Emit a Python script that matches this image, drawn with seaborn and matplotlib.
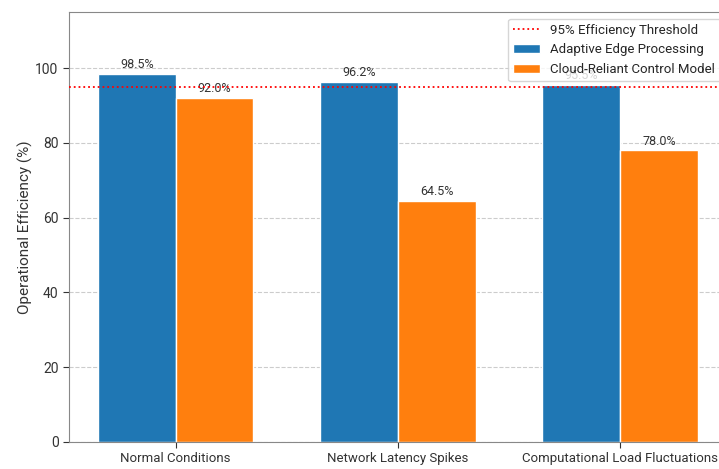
import pandas as pd
import matplotlib.pyplot as plt
import seaborn as sns

scenarios = ['Normal Conditions', 'Network Latency Spikes', 'Computational Load Fluctuations']
edge_values = [98.5, 96.2, 95.5]
cloud_values = [92.0, 64.5, 78.0]
series_names = ['Adaptive Edge Processing', 'Cloud-Reliant Control Model']
threshold = 95

sns.set_style('white')
plt.rcParams['font.family'] = ['Roboto', 'DejaVu Sans']

df = pd.DataFrame({
    'scenario': scenarios * 2,
    'efficiency': edge_values + cloud_values,
    'model': [series_names[0]] * 3 + [series_names[1]] * 3,
})

fig = plt.figure(figsize=(7.19, 4.69), dpi=100)
ax = fig.add_axes([0.096, 0.0576, 0.915, 0.917])

sns.barplot(data=df, x='scenario', y='efficiency', hue='model',
            palette=['#1f77b4', '#ff7f0e'], width=0.7, saturation=1,
            ax=ax, zorder=2)

for cont in ax.containers:
    ax.bar_label(cont, fmt='%.1f%%', fontsize=9, color='#333333', padding=2)

line = ax.axhline(threshold, color='red', linestyle=':', linewidth=1.3,
                  label='95% Efficiency Threshold', zorder=3)

ax.set_ylim(0, 115)
ax.set_xlim(-0.48, 2.48)
ax.set_xlabel('')
ax.set_ylabel('Operational Efficiency (%)', fontsize=11, color='#333333', labelpad=2)
ax.yaxis.grid(True, linestyle='--', color='#cccccc', linewidth=0.8, zorder=0)
ax.set_axisbelow(True)
ax.tick_params(axis='x', labelsize=9.5, colors='#333333', length=4, bottom=True)
ax.tick_params(axis='y', labelsize=10, colors='#333333', length=4, left=True)
for s in ax.spines.values():
    s.set_color('#888888')

handles, labels = ax.get_legend_handles_labels()
order = [labels.index('95% Efficiency Threshold')] + [labels.index(n) for n in series_names]
ax.legend([handles[i] for i in order], [labels[i] for i in order],
          loc='upper right', fontsize=9.5, frameon=True)

plt.savefig('out.png', dpi=100)
